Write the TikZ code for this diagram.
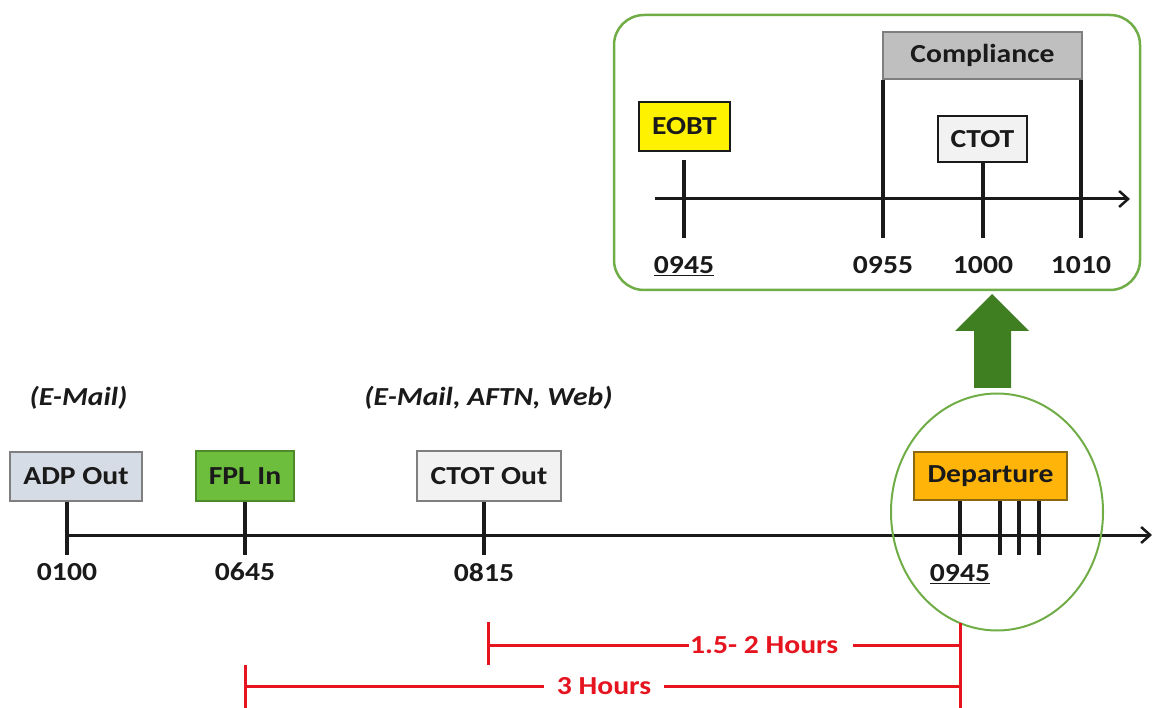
\documentclass[tikz,border=0pt]{standalone}
\usepackage{fontspec}
\setmainfont{Carlito}[FakeStretch=1.14]
\usetikzlibrary{arrows.meta,shapes.geometric}
\definecolor{adpfill}{HTML}{D6DCE5}
\definecolor{fplfill}{HTML}{6DBE3C}
\definecolor{fplline}{HTML}{4E8A2A}
\definecolor{lightfill}{HTML}{F2F2F2}
\definecolor{depfill}{HTML}{FFB40A}
\definecolor{depline}{HTML}{8B6914}
\definecolor{compfill}{HTML}{BFBFBF}
\definecolor{boxline}{HTML}{7F7F7F}
\definecolor{framegreen}{HTML}{70AD47}
\definecolor{arrowgreen}{HTML}{3F7F22}
\definecolor{spanred}{HTML}{E5141E}
\definecolor{ink}{HTML}{1A1A1A}
\tikzset{
  lbl/.style={font=\fontsize{26}{30}\selectfont\bfseries, text=ink, inner sep=0pt, anchor=north},
  tbox/.style={draw=boxline, line width=1.5pt, font=\fontsize{26}{30}\selectfont\bfseries, text=ink, inner sep=0pt, minimum height=50pt},
  axisline/.style={line width=3pt, draw=ink, -{Straight Barb[length=9pt,width=16pt,line width=2.5pt]}},
  tickline/.style={line width=3.5pt, draw=ink},
  redline/.style={line width=3pt, draw=spanred},
  redlbl/.style={font=\fontsize{26}{30}\selectfont\bfseries, text=spanred, inner sep=0pt, fill=white},
  note/.style={font=\fontsize{26}{30}\selectfont\bfseries\itshape, text=ink, inner sep=0pt}
}
\begin{document}
\begin{tikzpicture}[x=1pt,y=-1pt]
\useasboundingbox (0,0) rectangle (1154,708);

% ---------- inset ----------
\node[draw=framegreen, line width=2.5pt, rounded corners=30pt, minimum width=526pt, minimum height=275pt, inner sep=0pt] (inset) at (877,152.5) {};
\node[tbox, fill=compfill, minimum width=199pt, minimum height=47pt] (comp) at (982.5,55.5) {Compliance};
\node[tbox, fill=yellow, draw=ink, minimum width=91pt, minimum height=49pt] (eobt) at (684.5,126.5) {EOBT};
\node[tbox, fill=lightfill, draw=ink, minimum width=89pt, minimum height=46pt] (ctot) at (982.5,139) {CTOT};
\coordinate (ia0) at (655,199);
\coordinate (ia1) at (1130,199);
\draw[axisline] (ia0) -- (ia1);
\coordinate (tet) at (684,160);
\coordinate (te) at (684,238);
\coordinate (tc1) at (883,238);
\coordinate (tc) at (983,238);
\coordinate (tc2) at (1081,238);
\draw[tickline] (tet) -- (te);
\draw[tickline] (comp.south west -| tc1) -- (tc1);
\draw[tickline] (comp.south east -| tc2) -- (tc2);
\draw[tickline] (ctot.south -| tc) -- (tc);
\node[lbl] (l0945i) at (684,256) {\underline{0945}};
\node[lbl] (l0955) at (883,256) {0955};
\node[lbl] (l1000) at (983,256) {1000};
\node[lbl] (l1010) at (1081,256) {1010};

% ---------- green arrow ----------
\fill[arrowgreen] (974,388) -- (974,331) -- (955,331) -- (992,294) -- (1029,331) -- (1011,331) -- (1011,388) -- cycle;

% ---------- notes ----------
\node[note] (n1) at (78.5,398) {(E-Mail)};
\node[note] (n2) at (488.5,398) {(E-Mail, AFTN, Web)};

% ---------- main boxes ----------
\node[tbox, fill=adpfill, minimum width=132pt, minimum height=49pt] (adp) at (76,476.5) {ADP Out};
\node[tbox, fill=fplfill, draw=fplline, minimum width=98pt] (fpl) at (245,476) {FPL In};
\node[tbox, fill=lightfill, minimum width=144pt] (ctotout) at (489,476) {CTOT Out};
\node[tbox, fill=depfill, draw=depline, minimum width=153pt, minimum height=48pt] (dep) at (990.5,476) {Departure};

% ---------- main axis ----------
\coordinate (a0) at (67,535);
\coordinate (a1) at (1152,535);
\draw[axisline] (a0) -- (a1);
\coordinate (t1) at (67,555);
\coordinate (t2) at (245,555);
\coordinate (t3) at (484,555);
\coordinate (t4) at (960,555);
\coordinate (t5) at (1000,555);
\coordinate (t6) at (1019,555);
\coordinate (t7) at (1039,555);
\draw[tickline] (adp.south -| t1) -- (t1);
\draw[tickline] (fpl.south -| t2) -- (t2);
\draw[tickline] (ctotout.south -| t3) -- (t3);
\foreach \t in {t4,t5,t6,t7}{\draw[tickline] (dep.south -| \t) -- (\t);}
\node[lbl] (l0100) at (67,563) {0100};
\node[lbl] (l0645) at (245,563) {0645};
\node[lbl] (l0815) at (484,563) {0815};
\node[lbl] (l0945) at (960,564) {\underline{0945}};

% ---------- green circle ----------
\node[draw=framegreen, line width=2pt, ellipse, minimum width=212pt, minimum height=237pt, inner sep=0pt] (circ) at (997,512) {};

% ---------- red spans ----------
\coordinate (r1a) at (488,622);
\coordinate (r1b) at (488,665);
\coordinate (r2a) at (245,665);
\coordinate (r2b) at (245,708);
\coordinate (rra) at (960,623);
\coordinate (rrb) at (960,708);
\draw[redline] (r1a) -- (r1b);
\draw[redline] (r2a) -- (r2b);
\draw[redline] (rra) -- (rrb);
\coordinate (s1l) at (488,645);
\coordinate (s1r) at (960,645);
\coordinate (s2l) at (245,686);
\coordinate (s2r) at (960,686);
\draw[redline] (s1l) -- (s1r);
\draw[redline] (s2l) -- (s2r);
\node[redlbl, inner xsep=1pt, anchor=west] (h1) at (689,645) {1.5- 2 Hours\rule{14pt}{0pt}};
\node[redlbl, inner xsep=13pt] (h2) at (604,686) {3 Hours};
\end{tikzpicture}
\end{document}
